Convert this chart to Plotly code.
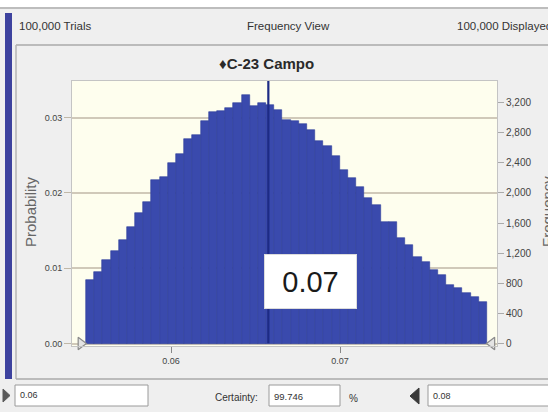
import plotly.graph_objects as go

# ---------------- data ----------------
PROB = [0.00843, 0.00954, 0.01109, 0.01233, 0.01375, 0.01551, 0.01729, 0.01884,
        0.02171, 0.02207, 0.02393, 0.02520, 0.02710, 0.02770, 0.02960, 0.03070,
        0.03084, 0.03127, 0.03194, 0.03296, 0.03150, 0.03194, 0.03171, 0.03105,
        0.02972, 0.02950, 0.02915, 0.02840, 0.02685, 0.02619, 0.02484, 0.02304,
        0.02194, 0.02082, 0.01928, 0.01839, 0.01618, 0.01618, 0.01397, 0.01308,
        0.01153, 0.01086, 0.00976, 0.00910, 0.00777, 0.00733, 0.00675, 0.00622,
        0.00555]
BIN_START = 0.05497
BIN_WIDTH = 0.0004843
MARKER_VALUE = 0.06576
GRAB_LEFT = 0.05467
GRAB_RIGHT = 0.07899
BOX_LABEL = "0.07"
BOX_X = 0.06825
BOX_Y = 0.00823
TITLE = "♦C-23 Campo"
TRIALS_TEXT = "100,000 Trials"
VIEW_TEXT = "Frequency View"
DISPLAYED_TEXT = "100,000 Displayed"
LEFT_VALUE = "0.06"
CERTAINTY = "99.746"
RIGHT_VALUE = "0.08"
TOTAL_TRIALS = 100000

bin_centers = [BIN_START + BIN_WIDTH * (i + 0.5) for i in range(len(PROB))]

# ---------------- geometry helpers (pixel -> paper) ----------------
W, H = 548, 412
L, R, T, B = 72, 497, 81, 346


def px(x):
    return (x - L) / (R - L)


def py(y):
    return (B - y) / (B - T)


FONT = "Liberation Sans, Arial, sans-serif"

y_lo, y_hi = -0.000332, 0.03486

fig = go.Figure()
fig.add_trace(go.Bar(
    x=bin_centers, y=PROB, width=BIN_WIDTH,
    marker=dict(color="#3a4aad", line=dict(color="#2d3c9a", width=0.6)),
    hoverinfo="skip", showlegend=False,
))
# invisible trace to activate the frequency axis
fig.add_trace(go.Scatter(x=[None], y=[None], yaxis="y2", showlegend=False,
                         hoverinfo="skip", mode="markers"))
# range grabbers
fig.add_trace(go.Scatter(
    x=[GRAB_LEFT, GRAB_RIGHT], y=[0, 0], mode="markers", cliponaxis=False,
    marker=dict(symbol=["triangle-right", "triangle-left"], size=11,
                color="#e4e4e4", line=dict(color="#8a8a8a", width=1.2)),
    hoverinfo="skip", showlegend=False,
))

fig.update_layout(
    width=W, height=H, autosize=False,
    margin=dict(l=L, r=W - R, t=T, b=H - B, pad=0),
    paper_bgcolor="#efefef", plot_bgcolor="#fefeee",
    bargap=0, showlegend=False,
    font=dict(family=FONT, color="#444"),
    xaxis=dict(range=[0.054142, 0.079290], tick0=0, dtick=0.01, tickformat=".2f",
               showgrid=False, zeroline=False, ticks="outside", ticklen=6,
               tickcolor="#888", tickfont=dict(size=9, color="#444"),
               showline=True, linecolor="#c4c4c4", mirror=True),
    yaxis=dict(range=[y_lo, y_hi], tick0=0, dtick=0.01, tickformat=".2f",
               showgrid=True, gridcolor="#d0c9b9", gridwidth=1.5, zeroline=False,
               ticks="outside", ticklen=7, tickcolor="#c0b8a8",
               tickfont=dict(size=9, color="#444"),
               showline=True, linecolor="#c4c4c4", mirror=True),
    yaxis2=dict(range=[y_lo * TOTAL_TRIALS, y_hi * TOTAL_TRIALS], overlaying="y",
                side="right", tick0=0, dtick=400, tickformat=",",
                showgrid=False, zeroline=False, ticks="outside", ticklen=6,
                tickcolor="#aaa", tickfont=dict(size=10, color="#444")),
)

shapes = []
# marker line
shapes.append(dict(type="line", xref="x", yref="y domain", x0=MARKER_VALUE, x1=MARKER_VALUE,
                   y0=0.01, y1=1, line=dict(color="#1d2b85", width=2.2)))
# top white strip and separator
shapes.append(dict(type="rect", xref="paper", yref="paper", x0=px(0), x1=px(W), y0=py(0), y1=py(7),
                   fillcolor="white", line=dict(width=0)))
shapes.append(dict(type="line", xref="paper", yref="paper", x0=px(0), x1=px(W), y0=py(8), y1=py(8),
                   line=dict(color="#bdbdbd", width=2)))
# blue side bar
shapes.append(dict(type="rect", xref="paper", yref="paper", x0=px(5), x1=px(12), y0=py(13), y1=py(379),
                   fillcolor="#3d429e", line=dict(width=0)))
# panel border
shapes.append(dict(type="line", xref="paper", yref="paper", x0=px(16), x1=px(W), y0=py(45), y1=py(45),
                   line=dict(color="#aaaaaa", width=1.5)))
shapes.append(dict(type="line", xref="paper", yref="paper", x0=px(16), x1=px(16), y0=py(45), y1=py(379),
                   line=dict(color="#b4b4b4", width=1.5)))
shapes.append(dict(type="line", xref="paper", yref="paper", x0=px(16), x1=px(W), y0=py(379), y1=py(379),
                   line=dict(color="#aaaaaa", width=1.5)))
# bottom input boxes
for x0, x1 in [(15, 148), (269, 340), (428, 560)]:
    shapes.append(dict(type="rect", xref="paper", yref="paper", x0=px(x0), x1=px(x1),
                       y0=py(385), y1=py(406), fillcolor="white",
                       line=dict(color="#9a9a9a", width=1)))


def tri_path(pts):
    return "M " + " L ".join(f"{px(a)},{py(b)}" for a, b in pts) + " Z"


shapes.append(dict(type="path", xref="paper", yref="paper",
                   path=tri_path([(3, 389), (10, 395.5), (3, 402)]),
                   fillcolor="#5a5a5a", line=dict(color="#5a5a5a", width=1)))
shapes.append(dict(type="path", xref="paper", yref="paper",
                   path=tri_path([(419, 388), (410, 396), (419, 404)]),
                   fillcolor="#3a3a3a", line=dict(color="#3a3a3a", width=1)))
fig.update_layout(shapes=shapes)

ann = []


def text(x, y, s, size, xanchor="left", color="#333", angle=0):
    ann.append(dict(xref="paper", yref="paper", x=px(x), y=py(y), text=s, showarrow=False,
                    xanchor=xanchor, yanchor="middle", textangle=angle,
                    font=dict(family=FONT, size=size, color=color)))


text(17, 26, TRIALS_TEXT, 11.5)
text(288, 26, VIEW_TEXT, 11.5, xanchor="center")
text(455, 26, DISPLAYED_TEXT, 11.5)
text(266, 63, "<b>" + TITLE + "</b>", 15, xanchor="center", color="#2a2a2a")
text(30, 212, "Probability", 15, xanchor="center", color="#666", angle=-90)
text(547, 212, "Frequency", 15, xanchor="center", color="#666", angle=-90)
text(18, 395, LEFT_VALUE, 9)
text(213, 397, "Certainty:", 10)
text(272, 396, CERTAINTY, 9.5)
text(347, 398, "%", 10)
text(431, 396, RIGHT_VALUE, 9)

ann.append(dict(xref="x", yref="y", x=BOX_X, y=BOX_Y, text=BOX_LABEL, showarrow=False,
                xanchor="center", yanchor="middle", width=91, height=53,
                bgcolor="white", bordercolor="#dcdcdc", borderwidth=1, borderpad=0,
                font=dict(family=FONT, size=29, color="#1a1a1a")))
fig.update_layout(annotations=ann)

fig.write_html("out.html", config={"displayModeBar": False},
               post_script="document.body.style.margin='0';document.body.style.overflow='hidden';")
